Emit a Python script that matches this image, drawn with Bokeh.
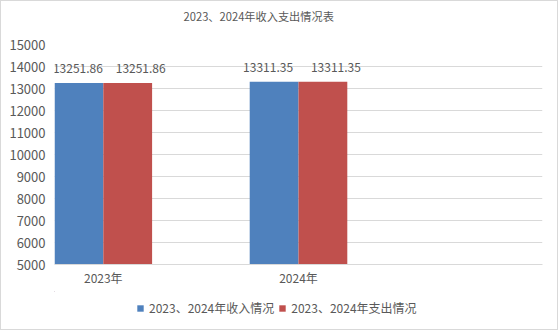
from bokeh.plotting import figure
from bokeh.models import ColumnDataSource, Range1d, FixedTicker, LabelSet, Legend, LegendItem, Title
from bokeh.layouts import column
from bokeh.core.properties import value
from bokeh.embed import file_html
from bokeh.resources import INLINE

categories = ["2023年", "2024年"]
income = [13251.86, 13311.35]
expense = [13251.86, 13311.35]
series_names = ["2023、2024年收入情况", "2023、2024年支出情况"]
title_text = "2023、2024年收入支出情况表"
y_ticks = [5000, 6000, 7000, 8000, 9000, 10000, 11000, 12000, 13000, 14000, 15000]

FONT = "Noto Sans CJK SC"
TXT = "#595959"
BLUE = "#4F81BD"
RED = "#C0504D"
GRID = "#d9d9d9"

xpos = list(range(len(categories)))
bw = 0.25
# label pixel nudges (layout only)
inc_nudge = [-1, -6]
exp_nudge = [13, 13]
src = ColumnDataSource(dict(
    x_inc=[x - bw / 2 for x in xpos],
    x_exp=[x + bw / 2 for x in xpos],
    inc=income, exp=expense,
    inc_lbl=[f"{v:.2f}" for v in income],
    exp_lbl=[f"{v:.2f}" for v in expense],
    inc_dx=inc_nudge, exp_dx=exp_nudge,
))

p = figure(width=556, height=290, output_backend="svg", toolbar_location=None,
           x_range=Range1d(-0.25, 2.25), y_range=Range1d(y_ticks[0], y_ticks[-1]),
           min_border_left=53, min_border_right=15, min_border_top=43, min_border_bottom=27)

p.outline_line_color = None
p.background_fill_color = "white"
p.border_fill_color = "white"

r1 = p.vbar(x="x_inc", top="inc", bottom=y_ticks[0], width=bw, source=src, color=BLUE, line_color=None)
r2 = p.vbar(x="x_exp", top="exp", bottom=y_ticks[0], width=bw, source=src, color=RED, line_color=None)

for col, xcol, lcol, dx in [("inc", "x_inc", "inc_lbl", "inc_dx"), ("exp", "x_exp", "exp_lbl", "exp_dx")]:
    p.add_layout(LabelSet(x=xcol, y=col, text=lcol, source=src, text_align="center",
                          text_baseline="middle", x_offset=dx, y_offset=14, text_font=value(FONT),
                          text_font_size="12px", text_color=TXT))

p.yaxis.ticker = FixedTicker(ticks=y_ticks)
p.yaxis.axis_line_color = None
p.yaxis.major_tick_line_color = None
p.yaxis.minor_tick_line_color = None
p.yaxis.major_tick_out = 0
p.yaxis.major_tick_in = 0
p.yaxis.major_label_standoff = 9
p.yaxis.major_label_text_font = FONT
p.yaxis.major_label_text_font_size = "13px"
p.yaxis.major_label_text_color = TXT

p.xaxis.ticker = FixedTicker(ticks=xpos)
p.xaxis.major_label_overrides = {i: c for i, c in enumerate(categories)}
p.xaxis.axis_line_color = GRID
p.xaxis.major_tick_line_color = None
p.xaxis.minor_tick_line_color = None
p.xaxis.major_tick_out = 0
p.xaxis.major_tick_in = 0
p.xaxis.major_label_standoff = 4
p.xaxis.major_label_text_font = FONT
p.xaxis.major_label_text_font_size = "12px"
p.xaxis.major_label_text_color = TXT

p.xgrid.grid_line_color = None
p.ygrid.grid_line_color = GRID
p.ygrid.ticker = FixedTicker(ticks=y_ticks)

# spacer nearest the frame, then the real title further out
spacer = Title(text=" ", text_font_size="1px", standoff=18, text_color="white")
p.add_layout(spacer, "above")
t = Title(text=title_text, align="left", offset=129, text_font=FONT, text_font_size="11.2px",
          text_color=TXT, text_font_style="normal", standoff=0)
p.add_layout(t, "above")

# legend strip below the chart
lg = figure(width=556, height=38, output_backend="svg", toolbar_location=None,
            x_axis_type=None, y_axis_type=None, x_range=Range1d(10, 11), y_range=Range1d(0, 1),
            min_border_left=0, min_border_right=0, min_border_top=0, min_border_bottom=0)
lg.outline_line_color = None
lg.grid.visible = False
# same bars as the chart; they fall outside this strip's ranges, only their legend swatches show
d1 = lg.vbar(x="x_inc", top="inc", bottom=y_ticks[0], width=bw, source=src, color=BLUE, line_color=None)
d2 = lg.vbar(x="x_exp", top="exp", bottom=y_ticks[0], width=bw, source=src, color=RED, line_color=None)
legend = Legend(items=[LegendItem(label=series_names[0], renderers=[d1]),
                       LegendItem(label=series_names[1], renderers=[d2])],
                orientation="horizontal", location=(82, 13),
                label_text_font=FONT, label_text_font_size="12px", label_text_color=TXT,
                glyph_width=8, glyph_height=8, spacing=4, label_standoff=5,
                padding=0, margin=0, border_line_color=None, background_fill_alpha=0)
lg.add_layout(legend, "center")

layout = column(p, lg, spacing=0, styles={"border": "1px solid #d9d9d9"})

open("out.html", "w").write(file_html(layout, INLINE))
